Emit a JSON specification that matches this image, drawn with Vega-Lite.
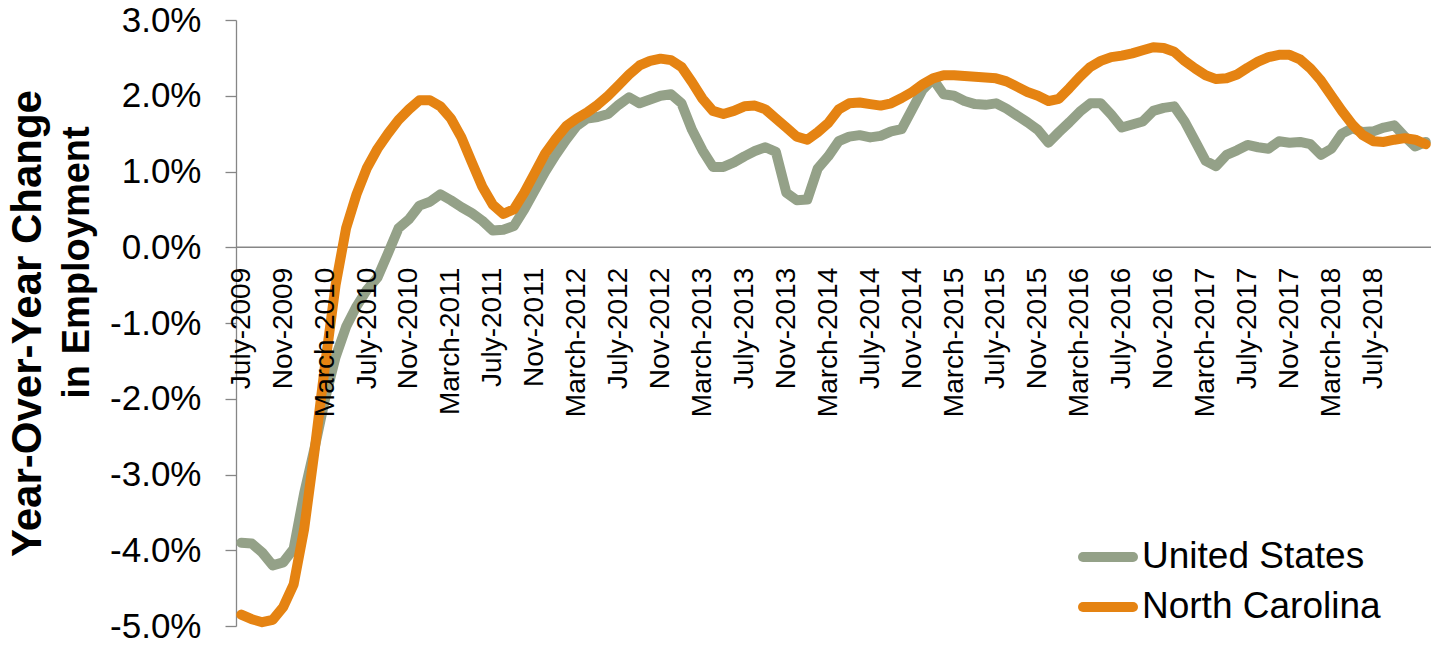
{
  "$schema": "https://vega.github.io/schema/vega-lite/v6.json",
  "autosize": {"type": "none"},
  "width": 1195,
  "height": 606,
  "padding": {"left": 236, "top": 20, "right": 4, "bottom": 19},
  "background": "white",
  "config": {"view": {"stroke": null}, "font": "Liberation Sans"},
  "resolve": {"axis": {"y": "independent"}},
  "layer": [
    {
      "data": {"values": [{"value": 0}]},
      "mark": {"type": "rule", "color": "#868686", "strokeWidth": 1.5},
      "encoding": {
        "y": {
          "field": "value",
          "type": "quantitative",
          "scale": {"domain": [-5, 3], "nice": false, "zero": false},
          "axis": {
            "orient": "left",
            "labels": false,
            "ticks": false,
            "domain": false,
            "grid": false,
            "title": "in Employment",
            "titleFont": "Liberation Sans",
            "titleFontSize": 38,
            "titleFontWeight": "bold",
            "titleColor": "black",
            "titleAngle": 270,
            "titleAlign": "center",
            "titleBaseline": "alphabetic",
            "titleX": -148,
            "titleY": 242
          }
        }
      }
    },
    {
      "data": {"values": [
        {"m":"2009-07","United States":-3.90,"North Carolina":-4.85},
        {"m":"2009-08","United States":-3.91,"North Carolina":-4.91},
        {"m":"2009-09","United States":-4.03,"North Carolina":-4.95},
        {"m":"2009-10","United States":-4.20,"North Carolina":-4.92},
        {"m":"2009-11","United States":-4.16,"North Carolina":-4.75},
        {"m":"2009-12","United States":-3.98,"North Carolina":-4.45},
        {"m":"2010-01","United States":-3.25,"North Carolina":-3.72},
        {"m":"2010-02","United States":-2.65,"North Carolina":-2.68},
        {"m":"2010-03","United States":-2.00,"North Carolina":-1.55},
        {"m":"2010-04","United States":-1.45,"North Carolina":-0.50},
        {"m":"2010-05","United States":-1.05,"North Carolina":0.25},
        {"m":"2010-06","United States":-0.78,"North Carolina":0.70},
        {"m":"2010-07","United States":-0.56,"North Carolina":1.05},
        {"m":"2010-08","United States":-0.40,"North Carolina":1.30},
        {"m":"2010-09","United States":-0.08,"North Carolina":1.50},
        {"m":"2010-10","United States":0.25,"North Carolina":1.68},
        {"m":"2010-11","United States":0.37,"North Carolina":1.82},
        {"m":"2010-12","United States":0.55,"North Carolina":1.94},
        {"m":"2011-01","United States":0.60,"North Carolina":1.94},
        {"m":"2011-02","United States":0.70,"North Carolina":1.86},
        {"m":"2011-03","United States":0.62,"North Carolina":1.70},
        {"m":"2011-04","United States":0.53,"North Carolina":1.45},
        {"m":"2011-05","United States":0.45,"North Carolina":1.12},
        {"m":"2011-06","United States":0.35,"North Carolina":0.80},
        {"m":"2011-07","United States":0.22,"North Carolina":0.56},
        {"m":"2011-08","United States":0.23,"North Carolina":0.44},
        {"m":"2011-09","United States":0.28,"North Carolina":0.50},
        {"m":"2011-10","United States":0.50,"North Carolina":0.72},
        {"m":"2011-11","United States":0.75,"North Carolina":0.98},
        {"m":"2011-12","United States":1.00,"North Carolina":1.24},
        {"m":"2012-01","United States":1.22,"North Carolina":1.43},
        {"m":"2012-02","United States":1.42,"North Carolina":1.60},
        {"m":"2012-03","United States":1.60,"North Carolina":1.70},
        {"m":"2012-04","United States":1.70,"North Carolina":1.78},
        {"m":"2012-05","United States":1.72,"North Carolina":1.88},
        {"m":"2012-06","United States":1.76,"North Carolina":2.00},
        {"m":"2012-07","United States":1.88,"North Carolina":2.14},
        {"m":"2012-08","United States":1.98,"North Carolina":2.28},
        {"m":"2012-09","United States":1.90,"North Carolina":2.40},
        {"m":"2012-10","United States":1.95,"North Carolina":2.46},
        {"m":"2012-11","United States":2.00,"North Carolina":2.49},
        {"m":"2012-12","United States":2.02,"North Carolina":2.47},
        {"m":"2013-01","United States":1.90,"North Carolina":2.38},
        {"m":"2013-02","United States":1.55,"North Carolina":2.18},
        {"m":"2013-03","United States":1.28,"North Carolina":1.96},
        {"m":"2013-04","United States":1.06,"North Carolina":1.80},
        {"m":"2013-05","United States":1.06,"North Carolina":1.76},
        {"m":"2013-06","United States":1.12,"North Carolina":1.80},
        {"m":"2013-07","United States":1.20,"North Carolina":1.86},
        {"m":"2013-08","United States":1.27,"North Carolina":1.87},
        {"m":"2013-09","United States":1.32,"North Carolina":1.82},
        {"m":"2013-10","United States":1.26,"North Carolina":1.70},
        {"m":"2013-11","United States":0.72,"North Carolina":1.58},
        {"m":"2013-12","United States":0.62,"North Carolina":1.46},
        {"m":"2014-01","United States":0.63,"North Carolina":1.42},
        {"m":"2014-02","United States":1.04,"North Carolina":1.52},
        {"m":"2014-03","United States":1.20,"North Carolina":1.64},
        {"m":"2014-04","United States":1.40,"North Carolina":1.82},
        {"m":"2014-05","United States":1.46,"North Carolina":1.90},
        {"m":"2014-06","United States":1.48,"North Carolina":1.91},
        {"m":"2014-07","United States":1.45,"North Carolina":1.89},
        {"m":"2014-08","United States":1.47,"North Carolina":1.87},
        {"m":"2014-09","United States":1.53,"North Carolina":1.90},
        {"m":"2014-10","United States":1.56,"North Carolina":1.97},
        {"m":"2014-11","United States":1.82,"North Carolina":2.05},
        {"m":"2014-12","United States":2.08,"North Carolina":2.15},
        {"m":"2015-01","United States":2.22,"North Carolina":2.23},
        {"m":"2015-02","United States":2.02,"North Carolina":2.27},
        {"m":"2015-03","United States":2.00,"North Carolina":2.27},
        {"m":"2015-04","United States":1.93,"North Carolina":2.26},
        {"m":"2015-05","United States":1.89,"North Carolina":2.25},
        {"m":"2015-06","United States":1.88,"North Carolina":2.24},
        {"m":"2015-07","United States":1.90,"North Carolina":2.23},
        {"m":"2015-08","United States":1.83,"North Carolina":2.19},
        {"m":"2015-09","United States":1.74,"North Carolina":2.12},
        {"m":"2015-10","United States":1.65,"North Carolina":2.05},
        {"m":"2015-11","United States":1.55,"North Carolina":2.00},
        {"m":"2015-12","United States":1.38,"North Carolina":1.93},
        {"m":"2016-01","United States":1.52,"North Carolina":1.96},
        {"m":"2016-02","United States":1.65,"North Carolina":2.10},
        {"m":"2016-03","United States":1.79,"North Carolina":2.25},
        {"m":"2016-04","United States":1.90,"North Carolina":2.38},
        {"m":"2016-05","United States":1.90,"North Carolina":2.46},
        {"m":"2016-06","United States":1.75,"North Carolina":2.51},
        {"m":"2016-07","United States":1.58,"North Carolina":2.53},
        {"m":"2016-08","United States":1.62,"North Carolina":2.56},
        {"m":"2016-09","United States":1.66,"North Carolina":2.60},
        {"m":"2016-10","United States":1.80,"North Carolina":2.64},
        {"m":"2016-11","United States":1.84,"North Carolina":2.63},
        {"m":"2016-12","United States":1.86,"North Carolina":2.58},
        {"m":"2017-01","United States":1.66,"North Carolina":2.46},
        {"m":"2017-02","United States":1.40,"North Carolina":2.36},
        {"m":"2017-03","United States":1.14,"North Carolina":2.27},
        {"m":"2017-04","United States":1.07,"North Carolina":2.22},
        {"m":"2017-05","United States":1.22,"North Carolina":2.23},
        {"m":"2017-06","United States":1.28,"North Carolina":2.28},
        {"m":"2017-07","United States":1.35,"North Carolina":2.37},
        {"m":"2017-08","United States":1.32,"North Carolina":2.45},
        {"m":"2017-09","United States":1.30,"North Carolina":2.51},
        {"m":"2017-10","United States":1.40,"North Carolina":2.54},
        {"m":"2017-11","United States":1.38,"North Carolina":2.54},
        {"m":"2017-12","United States":1.39,"North Carolina":2.48},
        {"m":"2018-01","United States":1.36,"North Carolina":2.36},
        {"m":"2018-02","United States":1.22,"North Carolina":2.20},
        {"m":"2018-03","United States":1.30,"North Carolina":2.00},
        {"m":"2018-04","United States":1.50,"North Carolina":1.80},
        {"m":"2018-05","United States":1.57,"North Carolina":1.62},
        {"m":"2018-06","United States":1.52,"North Carolina":1.48},
        {"m":"2018-07","United States":1.53,"North Carolina":1.40},
        {"m":"2018-08","United States":1.58,"North Carolina":1.39},
        {"m":"2018-09","United States":1.61,"North Carolina":1.42},
        {"m":"2018-10","United States":1.46,"North Carolina":1.44},
        {"m":"2018-11","United States":1.33,"North Carolina":1.42},
        {"m":"2018-12","United States":1.39,"North Carolina":1.36}
      ]},
      "transform": [{"fold": ["United States", "North Carolina"], "as": ["series", "value"]}],
      "mark": {"type": "line", "strokeWidth": 10, "strokeJoin": "round", "strokeCap": "round"},
      "encoding": {
        "y": {
          "field": "value",
          "type": "quantitative",
          "scale": {"domain": [-5, 3], "nice": false, "zero": false},
          "axis": {
            "orient": "left",
            "values": [-5, -4, -3, -2, -1, 0, 1, 2, 3],
            "labelExpr": "(datum.value < 0 ? '-' : '') + format(abs(datum.value), '.1f') + '%'",
            "title": "Year-Over-Year Change",
            "titleFont": "Liberation Sans",
            "titleFontSize": 42,
            "titleFontWeight": "bold",
            "titleColor": "black",
            "titleAngle": 270,
            "titleAlign": "center",
            "titleBaseline": "alphabetic",
            "titleX": -196,
            "titleY": 303,
            "labelFont": "Liberation Sans",
            "labelFontSize": 35,
            "labelColor": "black",
            "labelPadding": 24,
            "tickSize": 11,
            "tickColor": "#868686",
            "tickWidth": 1.3,
            "domainColor": "#868686",
            "domainWidth": 1.3,
            "grid": false
          }
        },
        "x": {
          "field": "m",
          "type": "ordinal",
          "scale": {"type": "point", "padding": 0.5},
          "axis": {
            "values": ["2009-07","2009-11","2010-03","2010-07","2010-11","2011-03","2011-07","2011-11","2012-03","2012-07","2012-11","2013-03","2013-07","2013-11","2014-03","2014-07","2014-11","2015-03","2015-07","2015-11","2016-03","2016-07","2016-11","2017-03","2017-07","2017-11","2018-03","2018-07"],
            "labelExpr": "(substring(datum.value,5,7)=='07' ? 'July' : substring(datum.value,5,7)=='11' ? 'Nov' : 'March') + '-' + substring(datum.value,0,4)",
            "labelAngle": -90,
            "labelFont": "Liberation Sans",
            "labelFontSize": 28,
            "labelColor": "black",
            "labelPadding": 20,
            "labelOverlap": false,
            "ticks": false,
            "tickSize": 0,
            "domain": false,
            "offset": -378.75,
            "title": null,
            "zindex": 1
          }
        },
        "color": {
          "field": "series",
          "type": "nominal",
          "scale": {"domain": ["United States", "North Carolina"], "range": ["#94A188", "#E58312"]},
          "legend": {
            "title": null,
            "orient": "none",
            "legendX": 842,
            "legendY": 507,
            "padding": 0,
            "symbolType": "stroke",
            "symbolSize": 2500,
            "symbolStrokeWidth": 10,
            "labelFont": "Liberation Sans",
            "labelFontSize": 37,
            "labelColor": "black",
            "labelLimit": 500,
            "labelOffset": 4,
            "rowPadding": 0,
            "encode": {"symbols": {"update": {"strokeCap": {"value": "round"}}}}
          }
        }
      }
    }
  ]
}
